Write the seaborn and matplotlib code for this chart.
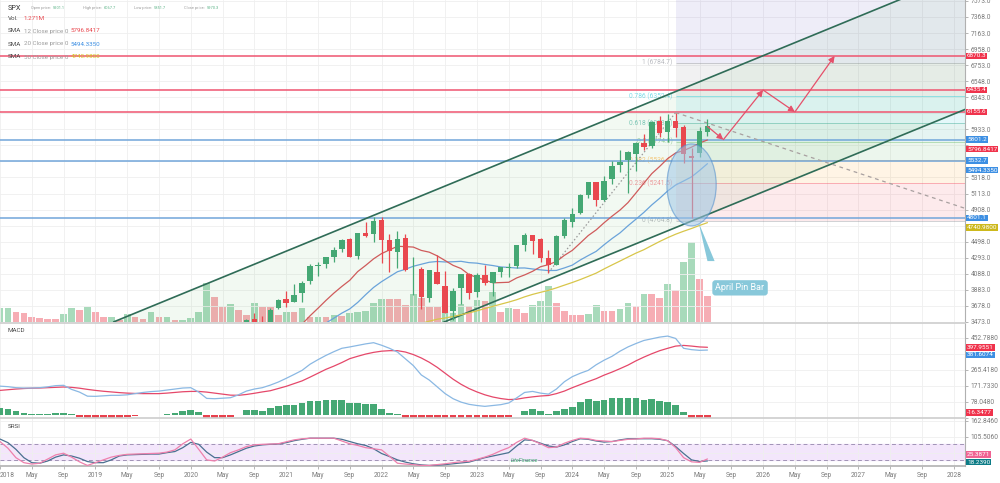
import numpy as np
import pandas as pd
import matplotlib
matplotlib.use("Agg")
import matplotlib.pyplot as plt
import seaborn as sns
from matplotlib.patches import Ellipse, Polygon

# ---------------- data (monthly, Jan 2018 .. Jun 2025) ----------------
opens = [2683, 2817, 2715, 2633, 2643, 2704, 2705, 2821, 2896, 2926, 2718, 2790,
         2476, 2703, 2798, 2848, 2952, 2751, 2953, 2981, 2910, 2984, 3050, 3145,
         3244, 3236, 2974, 2499, 2870, 3038, 3105, 3289, 3508, 3385, 3296, 3645,
         3764, 3732, 3842, 3992, 4193, 4217, 4300, 4407, 4529, 4317, 4610, 4602,
         4778, 4519, 4363, 4540, 4130, 4150, 3782, 4113, 3937, 3610, 3901, 4087,
         3853, 4070, 3964, 4110, 4166, 4181, 4450, 4578, 4530, 4284, 4202, 4564,
         4745, 4862, 5098, 5258, 5029, 5298, 5471, 5537, 5624, 5758, 5724, 6040,
         5903, 6041, 5968, 5597, 5626, 5901.1]
highs = [2873, 2835, 2801, 2718, 2742, 2791, 2848, 2917, 2941, 2940, 2816, 2800,
         2708, 2813, 2860, 2950, 2954, 2965, 3028, 3014, 3022, 3050, 3154, 3248,
         3338, 3394, 3137, 2955, 3068, 3233, 3280, 3514, 3588, 3550, 3646, 3760,
         3870, 3951, 3994, 4219, 4238, 4302, 4430, 4538, 4546, 4608, 4744, 4808,
         4819, 4596, 4637, 4593, 4308, 4178, 4140, 4325, 4120, 3906, 4080, 4101,
         4095, 4195, 4110, 4170, 4231, 4458, 4607, 4584, 4541, 4394, 4587, 4794,
         4932, 5111, 5265, 5264, 5342, 5523, 5669, 5652, 5768, 5879, 6045, 6100,
         6129, 6147, 5987, 5696, 5968, 6067.7]
lows = [2683, 2533, 2586, 2553, 2594, 2699, 2699, 2796, 2864, 2603, 2631, 2347,
        2444, 2681, 2722, 2848, 2751, 2729, 2952, 2822, 2891, 2856, 3050, 3071,
        3214, 2855, 2192, 2448, 2767, 2999, 3101, 3284, 3210, 3234, 3280, 3633,
        3663, 3725, 3723, 3955, 4057, 4165, 4234, 4367, 4306, 4279, 4560, 4496,
        4223, 4115, 4157, 4124, 3811, 3637, 3721, 3955, 3584, 3492, 3698, 3764,
        3795, 3943, 3809, 4049, 4048, 4167, 4385, 4335, 4238, 4104, 4197, 4546,
        4683, 4853, 5056, 4954, 5012, 5235, 5391, 5120, 5403, 5675, 5696, 5833,
        5774, 5837, 5505, 4800, 5578, 5851.7]
closes = [2824, 2714, 2641, 2648, 2705, 2718, 2816, 2902, 2914, 2712, 2760, 2507,
          2704, 2784, 2834, 2946, 2752, 2942, 2980, 2926, 2977, 3038, 3141, 3231,
          3226, 2954, 2585, 2912, 3044, 3100, 3271, 3500, 3363, 3270, 3622, 3756,
          3714, 3811, 3973, 4181, 4204, 4298, 4395, 4523, 4308, 4605, 4567, 4766,
          4516, 4374, 4530, 4132, 4132, 3785, 4130, 3955, 3586, 3872, 4080, 3840,
          4077, 3970, 4109, 4169, 4180, 4450, 4589, 4508, 4288, 4194, 4568, 4770,
          4846, 5096, 5254, 5036, 5278, 5460, 5522, 5648, 5762, 5705, 6032, 5882,
          6041, 5955, 5612, 5569, 5912, 5970.3]
volume_m = [0.68, 0.68, 0.52, 0.43, 0.24, 0.23, 0.18, 0.14, 0.40, 0.68,
            0.59, 0.76, 0.48, 0.24, 0.24, 0.11, 0.40, 0.28, 0.16, 0.48,
            0.24, 0.24, 0.11, 0.11, 0.19, 0.48, 1.92, 1.21, 0.72, 0.88,
            0.59, 0.35, 0.92, 0.76, 0.76, 0.35, 0.48, 0.48, 0.68, 0.24,
            0.28, 0.28, 0.35, 0.31, 0.43, 0.48, 0.55, 0.92, 1.13, 1.13,
            1.13, 0.84, 1.35, 1.19, 0.76, 0.76, 0.43, 0.43, 0.88, 0.79,
            1.08, 1.03, 1.48, 0.48, 0.71, 0.64, 0.47, 0.84, 1.03, 1.77,
            0.92, 0.57, 0.35, 0.35, 0.39, 0.84, 0.55, 0.55, 0.64, 0.92,
            0.81, 1.35, 1.35, 1.19, 1.84, 1.56, 2.90, 3.90, 2.09, 1.271]
volume_dir = ("ggrrrrrrgg" "rgrrgrgrrg" "rgrggggrrg" "rrgrrrgrgr" "grgrgggggr"
              "rrgrrrgggr" "grgrgrrggg" "rrrrggrrgg" "rgrrgrggrr")

sma12_start = 34
sma12 = [3173.2, 3216.9, 3257.6, 3329.0, 3444.7, 3550.4, 3647.1, 3746.9, 3840.6, 3925.8,
         4004.6, 4115.8, 4194.6, 4278.8, 4345.6, 4392.5, 4438.9, 4434.8, 4428.8, 4386.1,
         4364.0, 4316.7, 4256.5, 4195.4, 4154.8, 4077.7, 4041.1, 4007.4, 3972.3, 3975.4,
         3979.4, 4034.8, 4073.1, 4119.2, 4177.7, 4204.5, 4245.2, 4322.7, 4386.8, 4480.6,
         4576.0, 4648.3, 4739.8, 4823.9, 4901.7, 4996.7, 5119.5, 5245.4, 5367.4, 5460.1,
         5559.7, 5631.3, 5661.1, 5705.5, 5758.3, 5796.8417]
sma20_start = 38
sma20 = [3270.7, 3333.5, 3394.8, 3457.8, 3520.5, 3585.1, 3639.2, 3721.8, 3820.9, 3913.6,
         3987.2, 4050.9, 4113.8, 4145.4, 4183.9, 4209.6, 4235.0, 4245.0, 4238.6, 4241.6,
         4247.0, 4229.9, 4223.6, 4207.2, 4192.9, 4175.2, 4168.8, 4161.0, 4162.1, 4149.2,
         4137.8, 4128.8, 4130.7, 4162.6, 4198.3, 4263.9, 4320.1, 4374.1, 4458.7, 4538.1,
         4610.2, 4700.6, 4784.9, 4871.6, 4967.8, 5053.4, 5146.5, 5221.7, 5272.9, 5325.9,
         5407.1, 5494.3350]
sma50_start = 49
sma50 = [3339.1, 3373.2, 3401.6, 3431.4, 3454.1, 3482.6, 3507.4, 3522.8, 3542.2, 3565.5,
         3588.0, 3614.4, 3643.6, 3671.7, 3699.4, 3726.4, 3756.4, 3793.2, 3824.5, 3850.7,
         3876.0, 3907.8, 3942.5, 3976.6, 4013.9, 4054.4, 4096.1, 4149.9, 4200.9, 4250.5,
         4301.4, 4351.2, 4395.3, 4448.7, 4501.0, 4549.3, 4593.3, 4631.3, 4666.4, 4705.2,
         4740.9800]

macd_line = [169, 166, 160, 158, 158, 160, 165, 172, 174, 150,
             134, 110, 109, 112, 115, 115, 118, 125, 132, 137,
             140, 146, 152, 158, 160, 134, 97, 95, 98, 101,
             118, 140, 152, 160, 175, 193, 215, 238, 262, 298,
             325, 350, 372, 392, 400, 409, 418, 425, 410, 392,
             370, 330, 290, 235, 205, 165, 125, 95, 75, 62,
             55, 50, 55, 60, 70, 100, 132, 138, 128, 122,
             152, 195, 225, 245, 262, 295, 322, 345, 375, 400,
             420, 438, 448, 458, 464, 450, 392, 384, 380, 381.6074]
macd_signal = [144, 148, 152, 155, 157, 158, 160, 162, 164, 162,
               157, 150, 144, 139, 135, 131, 128, 126, 125, 125,
               125, 128, 132, 136, 138, 138, 134, 128, 122, 116,
               115, 120, 127, 135, 142, 155, 168, 184, 200, 222,
               245, 268, 287, 308, 331, 345, 358, 368, 375, 378,
               378, 370, 355, 335, 310, 280, 245, 210, 180, 155,
               135, 118, 105, 96, 90, 92, 100, 106, 111, 114,
               125, 140, 160, 178, 196, 213, 234, 252, 272, 293,
               318, 340, 360, 378, 392, 405, 409, 405, 400, 397.9551]
macd_hist = [40, 33, 20, 10, 6, 4, 4, 8, 12, 4,
             -12, -30, -35, -30, -25, -20, -14, -8, -2, 1,
             2, 4, 10, 20, 27, 14, -30, -40, -30, -15,
             2, 27, 27, 24, 43, 53, 57, 57, 69, 82,
             84, 86, 88, 90, 69, 69, 63, 61, 37, 10,
             4, -30, -60, -80, -100, -100, -95, -85, -70, -60,
             -45, -35, -25, -20, -10, 2, 24, 33, 22, 4,
             20, 37, 49, 73, 92, 82, 88, 98, 98, 98,
             98, 88, 92, 80, 76, 57, 18, -20, -25, -16.3477]
srsi_k = [88, 64, 30, 12, 7, 10, 25, 40, 46, 32,
          15, 2, 12, 22, 32, 38, 42, 43, 44, 45,
          46, 50, 58, 80, 97, 60, 22, 18, 32, 48,
          58, 70, 76, 78, 79, 80, 87, 94, 98, 100,
          100, 100, 100, 90, 80, 74, 66, 62, 58, 35,
          10, 7, 5, 2, 2, 5, 8, 12, 15, 17,
          24, 32, 42, 55, 66, 85, 100, 92, 80, 66,
          68, 82, 92, 100, 98, 92, 90, 88, 92, 96,
          97, 100, 100, 98, 91, 66, 30, 15, 13, 25.3871]
srsi_d = [97, 84, 60, 30, 12, 10, 18, 32, 40, 36,
          28, 16, 12, 12, 22, 36, 40, 41, 42, 43,
          43, 48, 52, 66, 85, 78, 50, 30, 30, 40,
          52, 64, 72, 76, 78, 79, 84, 91, 96, 100,
          100, 100, 100, 96, 88, 80, 74, 62, 45, 34,
          22, 14, 8, 4, 2, 3, 5, 8, 11, 14,
          22, 30, 36, 42, 48, 72, 94, 92, 82, 72,
          68, 76, 88, 98, 96, 90, 86, 88, 94, 98,
          98, 98, 98, 96, 91, 70, 45, 22, 16, 18.2390]

x_tick_labels = ["2018", "May", "Sep", "2019", "May", "Sep", "2020", "May", "Sep",
                 "2021", "May", "Sep", "2022", "May", "Sep", "2023", "May", "Sep",
                 "2024", "May", "Sep", "2025", "May", "Sep", "2026", "May", "Sep",
                 "2027", "May", "Sep", "2028"]
price_ticks = [3473.0, 3678.0, 3883.0, 4088.0, 4293.0, 4498.0, 4703.0, 4908.0, 5113.0,
               5318.0, 5523.0, 5728.0, 5933.0, 6138.0, 6343.0, 6548.0, 6753.0, 6958.0,
               7163.0, 7368.0, 7573.0]
macd_ticks = [-15.637, 78.048, 171.733, 265.418, 359.103, 452.788]
srsi_ticks = [48.166, 105.506, 162.846]

resistance_levels = [6870.3, 6435.4, 6155.6]
support_levels = [5801.2, 5532.7, 4801.1]
fib_names = ["0", "0.236", "0.382", "0.5", "0.618", "0.786", "1"]
fib_prices = [4764.8, 5241.5, 5536.4, 5774.8, 6013.1, 6352.4, 6784.7]
fib_top_price = 8033.0
fib_start_month = 85
channel_upper_x, channel_upper_y = [14.3, 112.8], [3473.0, 7573.0]
channel_lower_x, channel_lower_y = [55.6, 121.6], [3460.0, 6195.0]
trend_up_x, trend_up_y = [69, 85], [4104.0, 6147.0]
trend_down_x, trend_down_y = [85, 121.6], [6147.0, 4917.0]
path_x = [89, 91, 96, 100, 105]
path_y = [5970.3, 5801.2, 6435.4, 6155.6, 6870.3]
pin_center = (87.0, 5223.0)
pin_size = (6.2, 1047.0)
callout_xy = (93.1, 3908.0)

# ---------------- style ----------------
sns.set_theme(style="white")
plt.rcParams["font.family"] = ["Roboto", "DejaVu Sans"]

W, H = 1000, 483
fig = plt.figure(figsize=(W / 100, H / 100), dpi=100)
fig.patch.set_facecolor("white")

GREEN = "#45a874"
RED = "#e9484f"
VOL_G = "#a8dabb"
VOL_R = "#f6adb4"
BOX_RED = "#f0334c"
BOX_BLUE = "#3d8fe3"
BOX_YEL = "#cdb91c"
GRID = "#efefef"
TICKC = "#7a7a7a"
DARK = "#4a4a4a"
GRAYT = "#9c9c9c"


def rect(top_px, bottom_px, right_px=965):
    return [0, 1 - bottom_px / H, right_px / W, (bottom_px - top_px) / H]


ax_vol = fig.add_axes(rect(0, 322.3))
ax = fig.add_axes(rect(0, 322.3), sharex=ax_vol)
ax_macd = fig.add_axes(rect(323, 417.5), sharex=ax_vol)
ax_srsi = fig.add_axes(rect(418, 466), sharex=ax_vol)
ax.patch.set_visible(False)

months = np.arange(len(closes))
df = pd.DataFrame({"month": months, "open": opens, "high": highs, "low": lows,
                   "close": closes, "volume": volume_m, "vdir": list(volume_dir),
                   "macd": macd_line, "signal": macd_signal, "hist": macd_hist,
                   "k": srsi_k, "d": srsi_d})

XMAX = 121.4
ax.set_xlim(0, XMAX)
ax.set_ylim(3468, 7585)
ax_vol.set_ylim(0, 15.57)
ax_macd.set_ylim(-13, 541)
ax_srsi.set_ylim(0, 172.7)

xt = list(range(0, 121, 4))
ax.set_xticks(xt)

# ---- volume ----
ax_vol.bar(df["month"], df["volume"], width=0.84,
           color=[VOL_G if c == "g" else VOL_R for c in df["vdir"]], linewidth=0)
ax_vol.set_yticks([])
ax_vol.tick_params(bottom=False, labelbottom=False, left=False, labelleft=False)
for s in ax_vol.spines.values():
    s.set_visible(False)

# ---- main ----
ax.grid(True, color=GRID, lw=0.6, zorder=0)
lev_cols = ["#787b86", "#f23645", "#ff9800", "#4caf50", "#089981", "#00bcd4", "#787b86"]
fx = [fib_start_month, XMAX + 2]
for k in range(len(fib_prices) - 1):
    ax.fill_between(fx, fib_prices[k], fib_prices[k + 1], color=lev_cols[k + 1],
                    alpha=0.10, lw=0, zorder=0.8)
ax.fill_between(fx, fib_prices[-1], fib_top_price, color="#5e4fc0", alpha=0.10, lw=0, zorder=0.8)
for name, p, c in zip(fib_names, fib_prices, lev_cols):
    ax.hlines(p, fx[0], fx[1], color=c, lw=0.7, alpha=0.35, zorder=0.9)
    ax.text(fib_start_month - 0.4, p, f"{name} ({p:.1f})", ha="right", va="center",
            fontsize=4.8, color=c, alpha=0.5, zorder=1)


def line_at(ax_x, ax_y, xs):
    slope = (ax_y[1] - ax_y[0]) / (ax_x[1] - ax_x[0])
    return ax_y[0] + (np.asarray(xs) - ax_x[0]) * slope


cx = np.array([channel_upper_x[0], XMAX + 2])
up_line = line_at(channel_upper_x, channel_upper_y, cx)
lo_line = line_at(channel_lower_x, channel_lower_y, cx)
ax.fill_between(cx, lo_line, up_line, color="#4caf50", alpha=0.07, lw=0, zorder=1)
ax.plot(cx, up_line, color="#2f6c57", lw=1.2, zorder=3)
ax.plot(cx, lo_line, color="#2f6c57", lw=1.2, zorder=3)

for p in resistance_levels:
    ax.axhline(p, color="#ef5570", lw=1.1, zorder=2.5)
for p in support_levels:
    ax.axhline(p, color="#72a6da", lw=1.1, zorder=2.5)

ax.plot(trend_up_x, trend_up_y, color="#9a9a9a", lw=0.9, ls=(0, (1.2, 1.8)), zorder=3)
ax.plot(trend_down_x, trend_down_y, color="#a8a0a0", lw=0.9, ls=(0, (3, 3)), zorder=3)

sns.lineplot(x=months[sma50_start:], y=sma50, ax=ax, color="#d8c64a", linewidth=0.9,
             legend=False, zorder=3.4)
sns.lineplot(x=months[sma20_start:], y=sma20, ax=ax, color="#6aa3da", linewidth=0.9,
             legend=False, zorder=3.5)
sns.lineplot(x=months[sma12_start:], y=sma12, ax=ax, color="#cf5b5b", linewidth=0.9,
             legend=False, zorder=3.6)

up = df["close"] >= df["open"]
ccol = np.where(up, GREEN, RED)
ax.vlines(df["month"], df["low"], df["high"], colors=ccol, lw=0.9, zorder=4)
body = (df["close"] - df["open"]).abs().clip(lower=12)
bottom = np.minimum(df["open"], df["close"])
ax.bar(df["month"], body, bottom=bottom, width=0.68, color=ccol, linewidth=0, zorder=4.1)

ax.add_patch(Ellipse(pin_center, pin_size[0], pin_size[1], fc="#9fc6e6", alpha=0.55,
                     ec="#4d8ccc", lw=0.9, zorder=5))
ax.add_patch(Polygon([(87.9, 4740), (89.0, 4250), (89.9, 4250)], closed=True,
                     fc="#88c8da", ec="none", zorder=6.9))
ax.text(callout_xy[0], callout_xy[1], "April Pin Bar", ha="center", va="center", fontsize=6.5,
        color="white", zorder=7,
        bbox=dict(boxstyle="round,pad=0.35", fc="#88c8da", ec="none"))

for k in range(len(path_x) - 1):
    ax.annotate("", xy=(path_x[k + 1], path_y[k + 1]), xytext=(path_x[k], path_y[k]),
                arrowprops=dict(arrowstyle="-|>,head_length=0.3,head_width=0.15",
                                color="#e5506a", lw=0.9, shrinkA=0, shrinkB=0),
                zorder=6)

ax.set_xlabel("")
ax.set_ylabel("")

# ---- MACD ----
ax_macd.grid(True, color=GRID, lw=0.6, zorder=0)
hcol = np.where(df["hist"] >= 0, "#45a874", "#e8414d")
ax_macd.bar(df["month"], df["hist"], width=0.84, color=hcol, linewidth=0, zorder=2)
sns.lineplot(x=months, y=macd_signal, ax=ax_macd, color="#e5486a", linewidth=0.9,
             legend=False, zorder=3)
sns.lineplot(x=months, y=macd_line, ax=ax_macd, color="#8ab8e3", linewidth=0.9,
             legend=False, zorder=3.1)
ax_macd.set_xlabel("")
ax_macd.set_ylabel("")

# ---- SRSI ----
ax_srsi.axhspan(20, 80, color="#f3e6fb", zorder=0.5)
ax_srsi.grid(True, color=GRID, lw=0.6, zorder=0)
for lv in (20, 80):
    ax_srsi.axhline(lv, color="#a193b6", lw=0.7, ls=(0, (4, 3)), zorder=1)
sns.lineplot(x=months, y=srsi_d, ax=ax_srsi, color="#4a7090", linewidth=0.9,
             legend=False, zorder=3)
sns.lineplot(x=months, y=srsi_k, ax=ax_srsi, color="#ee80ac", linewidth=0.9,
             legend=False, zorder=3.1)
ax_srsi.text(66, 19, "LiteFinance", fontsize=4, color="#37a36a", style="italic",
             ha="center", va="center", zorder=4)
ax_srsi.set_xlabel("")
ax_srsi.set_ylabel("")

# ---- spines / ticks ----
for a in (ax, ax_macd, ax_srsi):
    a.spines["left"].set_visible(False)
    a.spines["right"].set_color("#b0b0b0")
    a.spines["right"].set_linewidth(0.8)
    a.yaxis.tick_right()
    a.tick_params(axis="y", which="both", right=True, length=2.5, width=0.6, color="#aaaaaa",
                  labelsize=4.8, labelcolor=TICKC, pad=1.5)
ax.spines["top"].set_visible(False)
ax.spines["bottom"].set_visible(False)
ax_macd.spines["top"].set_color("#cfcfcf")
ax_macd.spines["bottom"].set_visible(False)
ax_srsi.spines["top"].set_color("#cfcfcf")
ax_srsi.spines["bottom"].set_color("#b5b5b5")
for a in (ax, ax_macd):
    a.tick_params(axis="x", bottom=False, labelbottom=False)
ax_srsi.set_xticks(xt)
ax_srsi.set_xticklabels(x_tick_labels)
ax_srsi.tick_params(axis="x", bottom=True, length=2.5, width=0.6, color="#aaaaaa",
                    labelsize=4.8, labelcolor=TICKC, pad=2)
ax_srsi.get_xticklabels()[0].set_horizontalalignment("left")


def right_labels(axis, items, gap, margin=5.0):
    pts = []
    for val, txt, col in items:
        ypix = axis.transData.transform((1, val))[1]
        pts.append([ypix, txt, col])
    pts.sort(key=lambda p: -p[0])
    for k in range(1, len(pts)):
        if pts[k - 1][0] - pts[k][0] < gap:
            pts[k][0] = pts[k - 1][0] - gap
    # keep the lowest label inside the panel, pushing up only where needed
    low = axis.bbox.y0 + margin
    if pts and pts[-1][0] < low:
        pts[-1][0] = low
        for k in range(len(pts) - 2, -1, -1):
            if pts[k][0] - pts[k + 1][0] < gap:
                pts[k][0] = pts[k + 1][0] + gap
    for ypix, txt, col in pts:
        fig.text(967 / W, ypix / H, txt, ha="left", va="center", fontsize=4.6, color="white",
                 zorder=10, bbox=dict(boxstyle="square,pad=0.12", fc=col, ec="none"))
    return [p[0] for p in pts]


def set_ticks(axis, ticks, fmt, placed, thr):
    axis.set_yticks(ticks)
    labs = []
    for t in ticks:
        ypix = axis.transData.transform((1, t))[1]
        hide = any(abs(ypix - p) < thr for p in placed)
        labs.append("" if hide else fmt.format(t))
    axis.set_yticklabels(labs)


main_items = [(p, f"{p:.1f}", BOX_RED) for p in resistance_levels]
main_items += [(p, f"{p:.1f}", BOX_BLUE) for p in support_levels]
main_items += [(sma12[-1], f"{sma12[-1]:.4f}", BOX_RED),
               (sma20[-1], f"{sma20[-1]:.4f}", BOX_BLUE),
               (sma50[-1], f"{sma50[-1]:.4f}", BOX_YEL)]
placed = right_labels(ax, main_items, 9.5)
set_ticks(ax, price_ticks, "{:.1f}", placed, 6.5)

macd_items = [(macd_signal[-1], f"{macd_signal[-1]:.4f}", BOX_RED),
              (macd_line[-1], f"{macd_line[-1]:.4f}", BOX_BLUE),
              (macd_hist[-1], f"{macd_hist[-1]:.4f}", BOX_RED)]
placed = right_labels(ax_macd, macd_items, 7.5)
set_ticks(ax_macd, macd_ticks, "{:.4f}", placed, 6.0)

srsi_items = [(srsi_k[-1], f"{srsi_k[-1]:.4f}", "#f06292"),
              (srsi_d[-1], f"{srsi_d[-1]:.4f}", "#0c7c86")]
placed = right_labels(ax_srsi, srsi_items, 7.5, margin=4.0)
set_ticks(ax_srsi, srsi_ticks, "{:.4f}", placed, 5.5)


# ---- header texts ----
def text_chain(x_px, y_px, parts):
    prev = None
    for txt, col, fs, gap in parts:
        if prev is None:
            prev = fig.text(x_px / W, 1 - y_px / H, txt, color=col, fontsize=fs,
                            ha="left", va="center", zorder=12)
        else:
            prev = ax.annotate(txt, xy=(1, 0.5), xycoords=prev, xytext=(gap, 0),
                               textcoords="offset pixels", color=col, fontsize=fs,
                               ha="left", va="center", annotation_clip=False, zorder=12)
    return prev


VAL_G = "#5db488"
text_chain(8, 8, [("SPX", "#333333", 5.2, 0)])
for xp, lab, v in [(31, "Open price:", opens[-1]), (83, "High price:", highs[-1]),
                   (134, "Low price:", lows[-1]), (184, "Close price:", closes[-1])]:
    text_chain(xp, 8, [(lab, GRAYT, 2.9, 0), (f"{v:.1f}", VAL_G, 2.9, 1.5)])
text_chain(8, 18.5, [("Vol.", DARK, 4.5, 0), (f"{volume_m[-1]:.3f}M", RED, 4.5, 5)])
text_chain(8, 31, [("SMA", DARK, 4.5, 0), ("12 Close price 0", GRAYT, 4.5, 2.5),
                   (f"{sma12[-1]:.4f}", RED, 4.5, 2.5)])
text_chain(8, 44, [("SMA", DARK, 4.5, 0), ("20 Close price 0", GRAYT, 4.5, 2.5),
                   (f"{sma20[-1]:.4f}", "#3d8fe3", 4.5, 2.5)])
text_chain(8, 57, [("SMA", DARK, 4.5, 0), ("50 Close price 0", GRAYT, 4.5, 2.5),
                   (f"{sma50[-1]:.4f}", "#d4c21e", 4.5, 2.5)])
text_chain(8, 330, [("MACD", DARK, 4.5, 0), ("12 26 Close price 9", GRAYT, 4.5, 2.5),
                    (f"{macd_hist[-1]:.4f}", RED, 4.5, 2.5),
                    (f"{macd_line[-1]:.4f}", "#5f9fe0", 4.5, 2.5),
                    (f"{macd_signal[-1]:.4f}", "#e5486a", 4.5, 2.5)])
text_chain(8, 426, [("SRSI", DARK, 4.5, 0), ("14 Close price", GRAYT, 4.5, 2.5),
                    (f"{srsi_k[-1]:.4f}", "#ee6fa0", 4.5, 2.5),
                    (f"{srsi_d[-1]:.4f}", "#1b8a94", 4.5, 2.5)])

fig.savefig("out.png", dpi=100, facecolor="white")
